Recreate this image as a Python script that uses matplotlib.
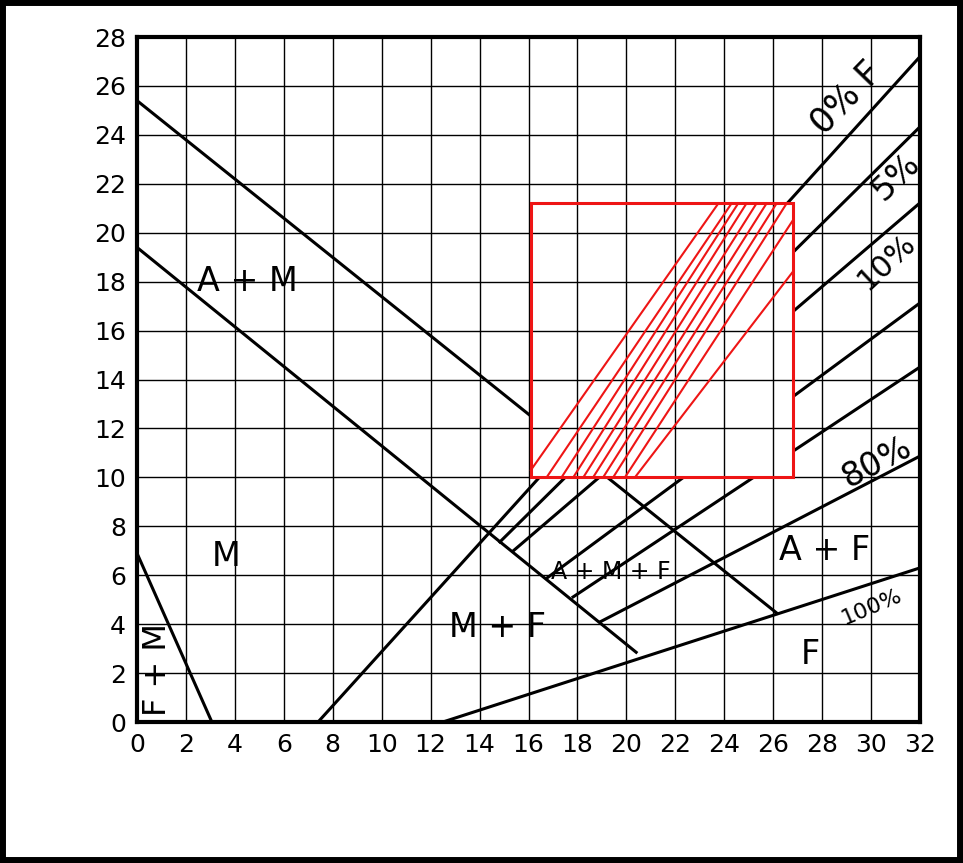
import numpy as np
import matplotlib.pyplot as plt
from matplotlib.patches import Rectangle

x_ticks = np.arange(0, 33, 2)
y_ticks = np.arange(0, 29, 2)

# boundary lines (end points)
am_upper_x = [0, 26.15]
am_upper_y = [25.4, 4.45]
am_lower_x = [0, 20.4]
am_lower_y = [19.4, 2.85]
fm_x = [0, 3.06]
fm_y = [6.9, 0]

# percentage lines
pct_x0 = [7.4, 14.83, 15.37, 16.76, 17.82, 18.92, 12.5]
pct_y0 = [0, 7.36, 6.99, 5.89, 5.11, 4.09, 0]
pct_x1 = [32, 32, 32, 32, 32, 32, 32]
pct_y1 = [27.2, 24.33, 21.22, 17.13, 14.51, 10.87, 6.3]

# red window
box_x = [16.1, 26.8]
box_y = [10.0, 21.2]

# hatch inside the window: start on the bottom edge, end on top/right edge
hatch_x0 = [16.1, 16.74, 17.35, 17.83, 18.24, 18.64, 19.05, 19.46, 19.94, 20.35]
hatch_y0 = [10.3, 10, 10, 10, 10, 10, 10, 10, 10, 10]
hatch_x1 = [23.76, 24.30, 24.57, 24.91, 25.32, 25.73, 26.14, 26.55, 26.8, 26.8]
hatch_y1 = [21.2, 21.2, 21.2, 21.2, 21.2, 21.2, 21.2, 21.2, 20.5, 18.4]

fig = plt.figure(figsize=(9.63, 8.63), dpi=100)
ax = fig.add_axes([137 / 963, (863 - 722) / 863, 783 / 963, 685 / 863])
ax.set_xlim(0, 32)
ax.set_ylim(0, 28)
ax.set_xticks(x_ticks)
ax.set_yticks(y_ticks)
ax.tick_params(length=0, labelsize=18, pad=8)
ax.set_axisbelow(False)
ax.grid(True, color="black", lw=1.0)
for s in ax.spines.values():
    s.set_linewidth(3)

lw = 2.2
ax.plot(am_upper_x, am_upper_y, color="black", lw=lw, zorder=2)
ax.plot(am_lower_x, am_lower_y, color="black", lw=lw, zorder=2)
ax.plot(fm_x, fm_y, color="black", lw=lw, zorder=2)
for x0, y0, x1, y1 in zip(pct_x0, pct_y0, pct_x1, pct_y1):
    ax.plot([x0, x1], [y0, y1], color="black", lw=lw, zorder=2)

red = "#ee1515"
# white fill hides the black lines inside the window, grid stays on top
ax.add_patch(Rectangle((box_x[0], box_y[0]), box_x[1] - box_x[0], box_y[1] - box_y[0],
                       facecolor="white", edgecolor="none", zorder=2.2))
ax.add_patch(Rectangle((box_x[0], box_y[0]), box_x[1] - box_x[0], box_y[1] - box_y[0],
                       facecolor="none", edgecolor=red, lw=2.2, zorder=3.2))
for x0, y0, x1, y1 in zip(hatch_x0, hatch_y0, hatch_x1, hatch_y1):
    ax.plot([x0, x1], [y0, y1], color=red, lw=1.5, zorder=3)

# region labels
ax.text(4.5, 18.0, "A + M", fontsize=24, ha="center", va="center")
ax.text(3.64, 6.75, "M", fontsize=24, ha="center", va="center")
ax.text(14.75, 3.88, "M + F", fontsize=24, ha="center", va="center")
ax.text(19.37, 6.13, "A + M + F", fontsize=17, ha="center", va="center")
ax.text(28.12, 7.03, "A + F", fontsize=24, ha="center", va="center")
ax.text(27.54, 2.74, "F", fontsize=24, ha="center", va="center")
ax.text(0.82, 2.13, "F + M", fontsize=23, ha="center", va="center", rotation=90)

# line labels
ax.text(29.0, 25.5, "0% F", fontsize=25, ha="center", va="center", rotation=46)
ax.text(31.0, 22.3, "5%", fontsize=24, ha="center", va="center", rotation=44)
ax.text(30.65, 18.8, "10%", fontsize=22, ha="center", va="center", rotation=43)
ax.text(30.24, 10.6, "80%", fontsize=24, ha="center", va="center", rotation=28)
ax.text(30.04, 4.7, "100%", fontsize=16, ha="center", va="center", rotation=23)

fig.patches.append(Rectangle((0, 0), 1, 1, transform=fig.transFigure, fill=False,
                             edgecolor="black", lw=8.6))

fig.savefig("out.png", dpi=100)
